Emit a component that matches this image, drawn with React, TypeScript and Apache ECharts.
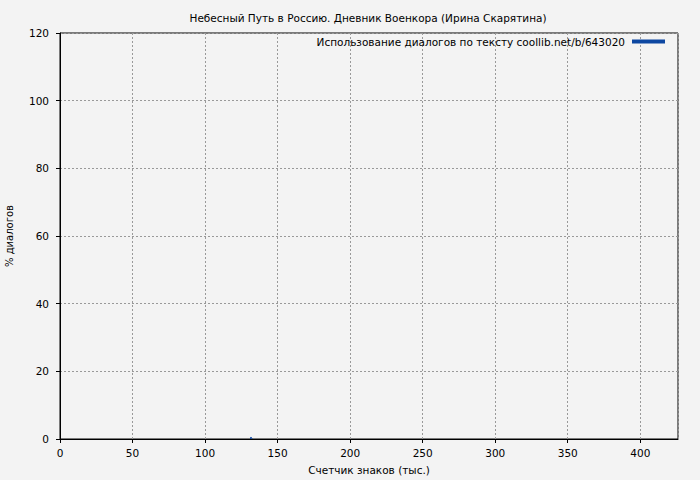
import * as echarts from 'echarts';
import { useEffect, useRef } from 'react';

// Счетчик знаков (тыс.) и % диалогов — единственный заметный всплеск
const charCounts = [131.2, 131.6, 132.0, 132.4];
const dialogShare = [0, 0.6, 0.4, 0];

const seriesName = 'Использование диалогов по тексту coollib.net/b/643020';
const titleText = 'Небесный Путь в Россию. Дневник Военкора (Ирина Скарятина)';

const FONT = 'DejaVu Sans';

const App = () => {
  const chartRef = useRef<HTMLDivElement>(null);

  useEffect(() => {
    if (!chartRef.current) return;
    const chart = echarts.init(chartRef.current, undefined, { renderer: 'svg' });

    const option: echarts.EChartsOption = {
      animation: false,
      backgroundColor: '#f3f3f3',
      textStyle: { fontFamily: FONT },
      title: {
        text: titleText,
        left: 363,
        textAlign: 'center',
        top: 7,
        textStyle: { fontSize: 10.5, fontWeight: 'normal', color: '#000', fontFamily: FONT },
      },
      legend: {
        right: 30,
        top: 31,
        align: 'right',
        icon: 'rect',
        itemWidth: 33,
        itemHeight: 4,
        itemGap: 0,
        textStyle: { fontSize: 10.5, color: '#000', fontFamily: FONT, padding: [0, 2, 0, 0] },
        data: [seriesName],
      },
      grid: {
        left: 60,
        right: 22,
        top: 33,
        bottom: 41,
        show: true,
        borderColor: '#000',
        borderWidth: 1,
        backgroundColor: 'transparent',
        outerBoundsMode: 'none',
      } as any,
      xAxis: {
        type: 'value',
        min: 0,
        max: 426,
        interval: 50,
        name: 'Счетчик знаков (тыс.)',
        nameLocation: 'middle',
        nameGap: 25,
        nameTextStyle: { fontSize: 10.5, color: '#000', fontFamily: FONT },
        axisLine: { show: true, lineStyle: { color: '#000', width: 1 } },
        axisTick: { show: true, length: 4, lineStyle: { color: '#000' } },
        axisLabel: {
          fontSize: 10.5,
          color: '#000',
          margin: 8,
          showMaxLabel: false,
          formatter: (v: number) => (v % 50 === 0 ? String(v) : ''),
        },
        splitLine: { show: true, lineStyle: { color: '#999', type: [2, 2], width: 1 } },
      },
      yAxis: {
        type: 'value',
        min: 0,
        max: 120,
        interval: 20,
        name: '% диалогов',
        nameLocation: 'middle',
        nameGap: 46,
        nameTextStyle: { fontSize: 10, color: '#000', fontFamily: FONT },
        axisLine: { show: true, lineStyle: { color: '#000', width: 1 } },
        axisTick: { show: true, length: 4, lineStyle: { color: '#000' } },
        axisLabel: { fontSize: 10.5, color: '#000', margin: 11 },
        splitLine: { show: true, lineStyle: { color: '#999', type: [2, 2], width: 1 } },
      },
      series: [
        {
          name: seriesName,
          type: 'line',
          data: charCounts.map((x, i) => [x, dialogShare[i]]),
          showSymbol: false,
          lineStyle: { color: '#0d47a1', width: 1 },
          itemStyle: { color: '#0d47a1' },
        },
      ],
    };

    chart.setOption(option);
    return () => {
      chart.dispose();
    };
  }, []);

  return (
    <div
      ref={chartRef}
      style={{ position: 'absolute', left: 0, top: 0, width: 700, height: 480 }}
    />
  );
};

export default App;
